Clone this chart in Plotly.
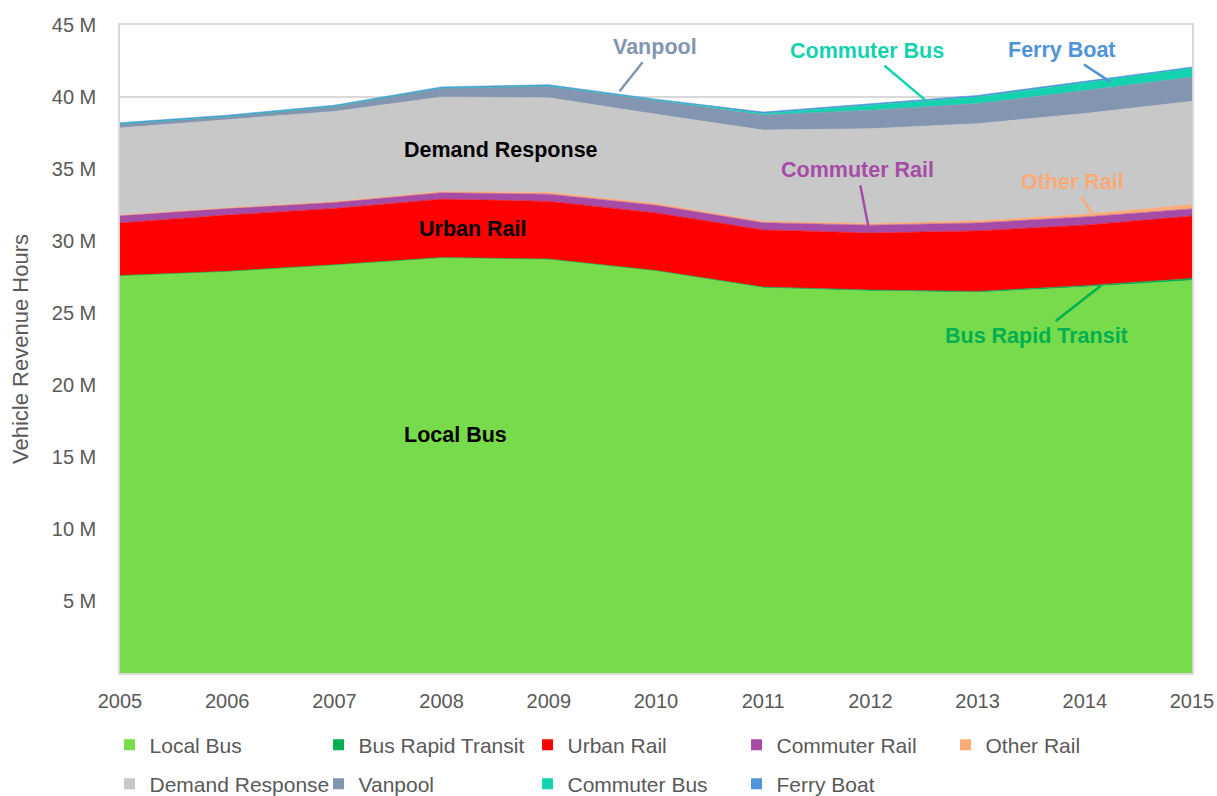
import plotly.graph_objects as go

# Vehicle revenue hours by mode, millions
years = list(range(2005, 2016))
local_bus = [27.60, 27.90, 28.35, 28.85, 28.75, 27.95, 26.75, 26.53, 26.42, 26.80, 27.26]
bus_rapid_transit = [0, 0, 0, 0, 0, 0, 0.05, 0.07, 0.08, 0.10, 0.14]
urban_rail = [3.65, 3.90, 3.90, 4.05, 4.00, 4.00, 3.97, 3.95, 4.20, 4.20, 4.33]
commuter_rail = [0.50, 0.45, 0.42, 0.45, 0.50, 0.53, 0.50, 0.55, 0.55, 0.57, 0.50]
other_rail = [0.05, 0.06, 0.07, 0.08, 0.12, 0.12, 0.10, 0.11, 0.15, 0.18, 0.30]
demand_response = [6.05, 6.09, 6.26, 6.57, 6.58, 6.20, 6.33, 6.59, 6.75, 7.00, 7.17]
vanpool = [0.28, 0.25, 0.35, 0.62, 0.81, 0.97, 1.05, 1.28, 1.39, 1.61, 1.68]
commuter_bus = [0, 0, 0, 0, 0, 0, 0.10, 0.37, 0.46, 0.53, 0.62]
ferry_boat = [0.08, 0.09, 0.08, 0.08, 0.09, 0.08, 0.10, 0.09, 0.11, 0.10, 0.08]

y_ticks = [5, 10, 15, 20, 25, 30, 35, 40, 45]
y_tick_labels = ["5 M", "10 M", "15 M", "20 M", "25 M", "30 M", "35 M", "40 M", "45 M"]

series = [
    ("Local Bus", local_bus, "#78DB4C", "legend"),
    ("Bus Rapid Transit", bus_rapid_transit, "#00B050", "legend"),
    ("Urban Rail", urban_rail, "#FF0000", "legend"),
    ("Commuter Rail", commuter_rail, "#A64CA6", "legend"),
    ("Other Rail", other_rail, "#FBAA78", "legend"),
    ("Demand Response", demand_response, "#C8C8C8", "legend2"),
    ("Vanpool", vanpool, "#8395B0", "legend2"),
    ("Commuter Bus", commuter_bus, "#14D2AE", "legend2"),
    ("Ferry Boat", ferry_boat, "#4F94D8", "legend2"),
]

fig = go.Figure()
for name, vals, color, _ in series:
    fig.add_trace(go.Scatter(
        x=years, y=vals, name=name, mode="lines",
        stackgroup="modes", fillcolor=color,
        line=dict(color=color, width=0.6),
        showlegend=False,
    ))

# legend swatches (square markers), two rows
for name, vals, color, leg in series:
    fig.add_trace(go.Scatter(
        x=[None], y=[None], name=name, mode="markers",
        marker=dict(symbol="square", size=11, color=color),
        legend=leg, showlegend=True,
    ))

label_font = "Liberation Sans, Arial, sans-serif"

def label(text, x, y, color, ax=None, ay=None):
    kw = dict(x=x, y=y, text=f"<b>{text}</b>", xref="x", yref="y",
              font=dict(family=label_font, size=21.5, color=color))
    if ax is None:
        kw.update(showarrow=False)
    else:
        kw.update(showarrow=True, arrowhead=0, arrowwidth=2.5, arrowcolor=color,
                  ax=ax, ay=ay, standoff=0, startstandoff=2)
    fig.add_annotation(**kw)

label("Demand Response", 2008.55, 36.3, "#000000")
label("Urban Rail", 2008.29, 30.8, "#000000")
label("Local Bus", 2008.13, 16.5, "#000000")
label("Vanpool", 2009.66, 40.4, "#8395B0", ax=35, ay=-44)
label("Commuter Bus", 2012.51, 39.8, "#14D2AE", ax=-58, ay=-49)
label("Ferry Boat", 2014.24, 41.05, "#4F94D8", ax=-49, ay=-32)
label("Commuter Rail", 2011.98, 31.05, "#A64CA6", ax=-11, ay=-56)
label("Other Rail", 2014.07, 31.88, "#FBAA78", ax=-20, ay=-32)
label("Bus Rapid Transit", 2014.15, 26.9, "#00B050", ax=-64, ay=50)

axis_font = dict(family=label_font, size=20, color="#595959")
legend_common = dict(
    orientation="h", xanchor="left", yanchor="middle",
    xref="container", yref="container", traceorder="normal",
    entrywidth=164, entrywidthmode="pixels",
    font=dict(family=label_font, size=21, color="#595959"),
    bgcolor="rgba(0,0,0,0)", itemclick=False, itemdoubleclick=False,
)

fig.update_layout(
    width=1217, height=796,
    margin=dict(l=120, r=25, t=25, b=123, autoexpand=False),
    paper_bgcolor="white", plot_bgcolor="white",
    font=dict(family=label_font),
    xaxis=dict(
        range=[2005, 2015], tickvals=years, ticktext=[str(y) for y in years],
        tickfont=axis_font, showgrid=False, zeroline=False, automargin=False,
        showline=True, linecolor="#D9D9D9", linewidth=1.5, mirror=True,
        ticks="", ticklabelstandoff=9,
    ),
    yaxis=dict(
        range=[0, 45], tickvals=y_ticks, ticktext=y_tick_labels,
        tickfont=axis_font, showgrid=True, gridcolor="#D9D9D9", gridwidth=1.5,
        zeroline=False, showline=True, linecolor="#D9D9D9", linewidth=1.5, mirror=True,
        ticks="", ticklabelstandoff=18, automargin=False,
        title=dict(text="Vehicle Revenue Hours", font=dict(family=label_font, size=22, color="#595959"),
                   standoff=17),
    ),
    legend=dict(x=0.09, y=1 - 745 / 796, **legend_common),
    legend2=dict(x=0.09, y=1 - 784 / 796, **legend_common),
    showlegend=True,
)

fig.write_html("out.html")
